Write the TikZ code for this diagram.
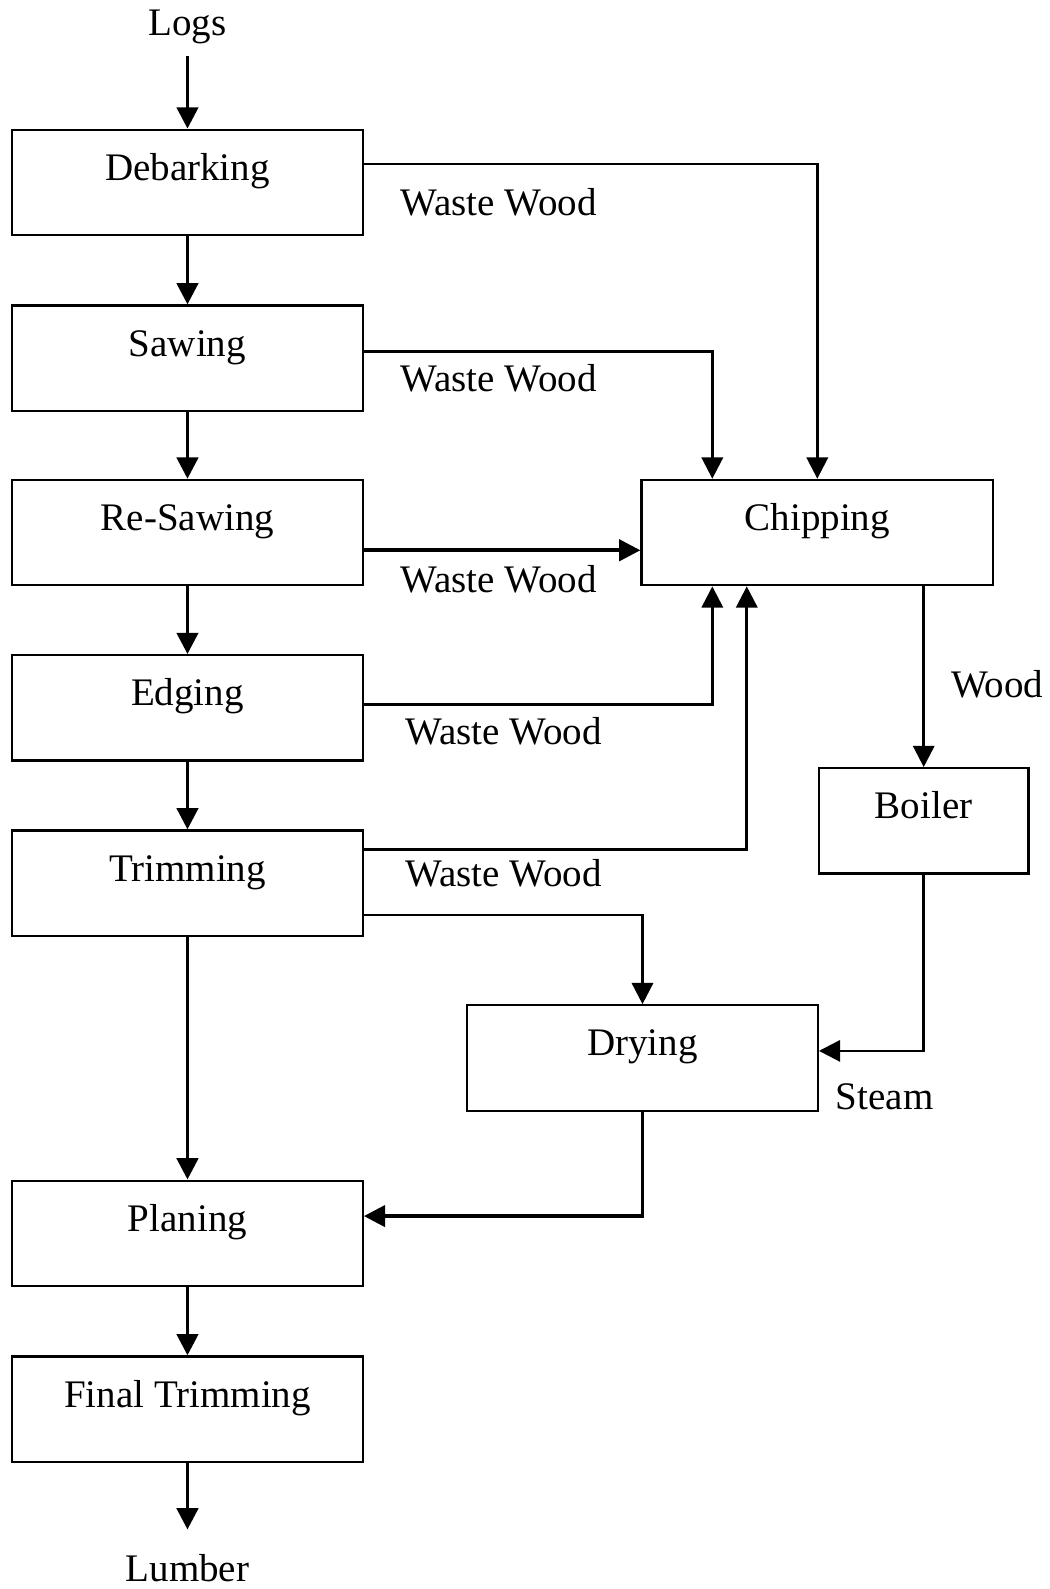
\documentclass[tikz,border=0pt]{standalone}
\usepackage{fontspec}
\setmainfont{Liberation Serif}
\usetikzlibrary{arrows.meta,positioning}

\begin{document}
\begin{tikzpicture}[x=1pt, y=-1pt,
    every node/.style={font=\fontsize{38.5}{42}\selectfont},
    proc/.style={draw, line width=2.2pt, minimum width=346pt, minimum height=104pt,
                 text height=26pt, text depth=30pt, inner sep=0pt},
    flow/.style={line width=3.6pt, -{Triangle[length=21pt,width=21pt]}},
    link/.style={line width=2.6pt, -{Triangle[length=21pt,width=21pt]}}]
    \useasboundingbox (0,0) rectangle (1036,1568);

    % Main line
    \node (logs) at (185,27) {Logs};
    \node[proc] (deb) at (185,180) {Debarking};
    \node[proc] (saw) at (185,353.5) {Sawing};
    \node[proc] (res) at (185,525.5) {Re-Sawing};
    \node[proc] (edg) at (185,698.5) {Edging};
    \node[proc] (trim) at (185,871.5) {Trimming};
    \node[proc] (pla) at (185,1217) {Planing};
    \node[proc] (fin) at (185,1390.5) {Final Trimming};
    \node[inner sep=0pt] (lum) at (185,1547) {Lumber};

    % Side units
    \node[proc, minimum width=347pt] (chip) at (806.5,525.5) {Chipping};
    \node[proc, minimum width=207pt] (boil) at (911.5,810) {Boiler};
    \node[proc] (dry) at (634,1044) {Drying};

    % Main line arrows
    \draw[flow, shorten <=8pt] (logs) -- (deb);
    \foreach \a/\b in {deb/saw, saw/res, res/edg, edg/trim, trim/pla, pla/fin}
        \draw[flow] (\a) -- (\b);
    \draw[flow, shorten >=24pt] (fin) -- (lum);

    % Waste wood to chipping
    \draw[link] ([yshift=18pt]deb.east) -| (chip.north);
    \draw[link] ([yshift=6.5pt]saw.east) -| ([xshift=71pt]chip.north west);
    \draw[flow] ([yshift=-17.5pt]res.east) -- ([yshift=-17.5pt]chip.west);
    \draw[link] ([yshift=3.5pt]edg.east) -| ([xshift=71pt]chip.south west);
    \draw[link] ([yshift=33.5pt]trim.east) -| ([xshift=105pt]chip.south west);
    \node (ww1) at (492,200) {Waste Wood};
    \node (ww2) at (492,373) {Waste Wood};
    \node (ww3) at (492,572) {Waste Wood};
    \node (ww4) at (497,722) {Waste Wood};
    \node (ww5) at (497,862) {Waste Wood};

    % Drying and energy
    \draw[link] ([yshift=-31.5pt]trim.east) -| (dry.north);
    \draw[link] (chip.south -| boil.north) -- (boil.north);
    \node (wood) at (984,675) {Wood};
    \draw[link] (boil.south) |- ([yshift=7pt]dry.east);
    \node (steam) at (873,1082) {Steam};
    \draw[flow] (dry.south) |- ([yshift=17pt]pla.east);
\end{tikzpicture}
\end{document}
